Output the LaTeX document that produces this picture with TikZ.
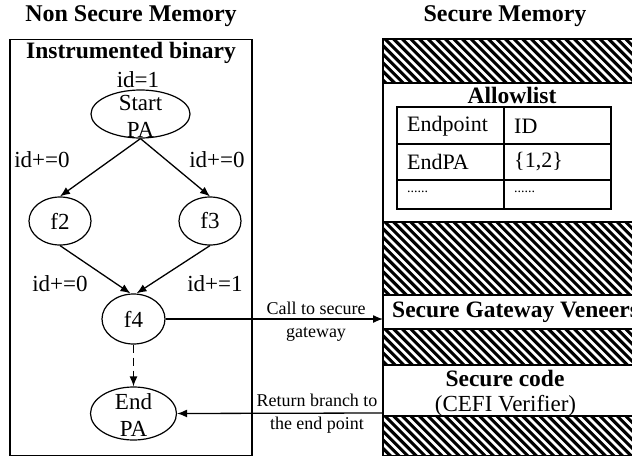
\documentclass[tikz,border=0pt]{standalone}
\usepackage{fontspec}
\setmainfont{Liberation Serif}
\usetikzlibrary{shapes.geometric,arrows.meta}
\newcommand\myhatch[2]{%
  \begin{scope}
    \clip (383,#1) rectangle (640,#2);
    \foreach \k in {-12,...,32} {
      \draw[line width=3.1pt] ({383+\k*8.6},#1-2) -- ++(100,100);
    }
  \end{scope}
  \draw[line width=1.2pt] (383,#1) -- (640,#1) (383,#2) -- (640,#2);
}
\begin{document}
\begin{tikzpicture}[x=1pt,y=-1pt,
  ell/.style={draw, ellipse, line width=1.2pt, inner sep=0pt},
  etxt/.style={font=\fontsize{23}{27}\selectfont, align=center, inner sep=0pt},
  arr/.style={line width=1.3pt, -{Latex[length=10pt,width=8pt]}},
  lbl/.style={font=\fontsize{23}{26}\selectfont, inner sep=0pt},
  btitle/.style={font=\fontsize{24}{28}\selectfont\bfseries, inner sep=0pt},
  small/.style={font=\fontsize{18}{23}\selectfont, align=center, inner sep=0pt},
  tab/.style={font=\fontsize{22}{26}\selectfont, inner sep=0pt, anchor=west},
  dots/.style={font=\fontsize{14}{16}\selectfont, inner sep=0pt, anchor=west}]
\useasboundingbox (0,0) rectangle (632,458);
\clip (0,0) rectangle (632,458);

% titles
\node[btitle] (t1) at (131,16) {Non Secure Memory};
\node[btitle] (t2) at (505,16) {Secure Memory};

% left box
\node[draw, line width=1.4pt, minimum width=242pt, minimum height=416pt, inner sep=0pt] (nsbox) at (131,247.5) {};
\node[btitle, font=\fontsize{23.5}{28}\selectfont\bfseries] (ib) at (131,53) {Instrumented binary};
\node[lbl] (id1) at (138,80) {id=1};

% ellipses
\node[ell, minimum width=99pt, minimum height=48pt] (sa) at (140.5,114) {};
\node[etxt] (satxt) at (140.5,116.5) {Start\\PA};
\node[ell, minimum width=62pt, minimum height=48pt] (f2) at (60,221) {};
\node[etxt] (f2t) at (60,221) {f2};
\node[ell, minimum width=62pt, minimum height=48pt] (f3) at (210,221) {};
\node[etxt] (f3t) at (210,221) {f3};
\node[ell, minimum width=63pt, minimum height=50pt] (f4) at (133.5,319) {};
\node[etxt] (f4t) at (133.5,319) {f4};
\node[ell, minimum width=86pt, minimum height=53pt] (ep) at (133.5,413.5) {};
\node[etxt] (ept) at (133.5,415) {End\\PA};

% edges
\draw[arr] (sa.south) -- (f2.north);
\draw[arr] (sa.south) -- (f3.north);
\draw[arr] (f2.south) -- ([xshift=-3pt]f4.north);
\draw[arr] (f3.south) -- ([xshift=3pt]f4.north);
\draw[arr, dashed, dash pattern=on 8pt off 5pt] (f4.south) -- (ep.north);

\node[lbl] (l1) at (42,160) {id+=0};
\node[lbl] (l2) at (217,160) {id+=0};
\node[lbl] (l3) at (60,284) {id+=0};
\node[lbl] (l4) at (215,284) {id+=1};

% secure memory column
\myhatch{39}{83}
\myhatch{222}{295}
\myhatch{329}{365}
\myhatch{416}{455.5}
\draw[line width=1.4pt] (640,39) -- (383,39) -- (383,455.5) -- (640,455.5);

\coordinate (gw) at (383,319);
\coordinate (rt) at (383,413);

\node[btitle, font=\fontsize{23.5}{28}\selectfont\bfseries] (al) at (512,95) {Allowlist};
\draw[line width=1.2pt] (397,107) rectangle (611,209);
\draw[line width=1.2pt] (397,144) -- (611,144) (397,180) -- (611,180) (504,107) -- (504,209);
\node[tab] (c11) at (407,126) {Endpoint};
\node[tab] (c12) at (514,126) {ID};
\node[tab] (c21) at (407,162) {EndPA};
\node[tab] (c22) at (514,162) {\{1,2\}};
\node[dots] (c31) at (407,192) {......};
\node[dots] (c32) at (514,192) {......};

\node[btitle, font=\fontsize{23.5}{28}\selectfont\bfseries, anchor=west] (sgv) at (392,312) {Secure Gateway Veneers};
\node[btitle, font=\fontsize{23.5}{28}\selectfont\bfseries] (sc) at (505,378) {Secure code};
\node[lbl] (cv) at (505.5,406) {(CEFI Verifier)};

% cross arrows
\draw[arr] (f4.east) -- (gw);
\draw[arr] (rt) -- (ep.east);
\node[small] (cl) at (316,321.5) {Call to secure\\gateway};
\node[small] (rl) at (317,413.5) {Return branch to\\the end point};
\end{tikzpicture}
\end{document}
